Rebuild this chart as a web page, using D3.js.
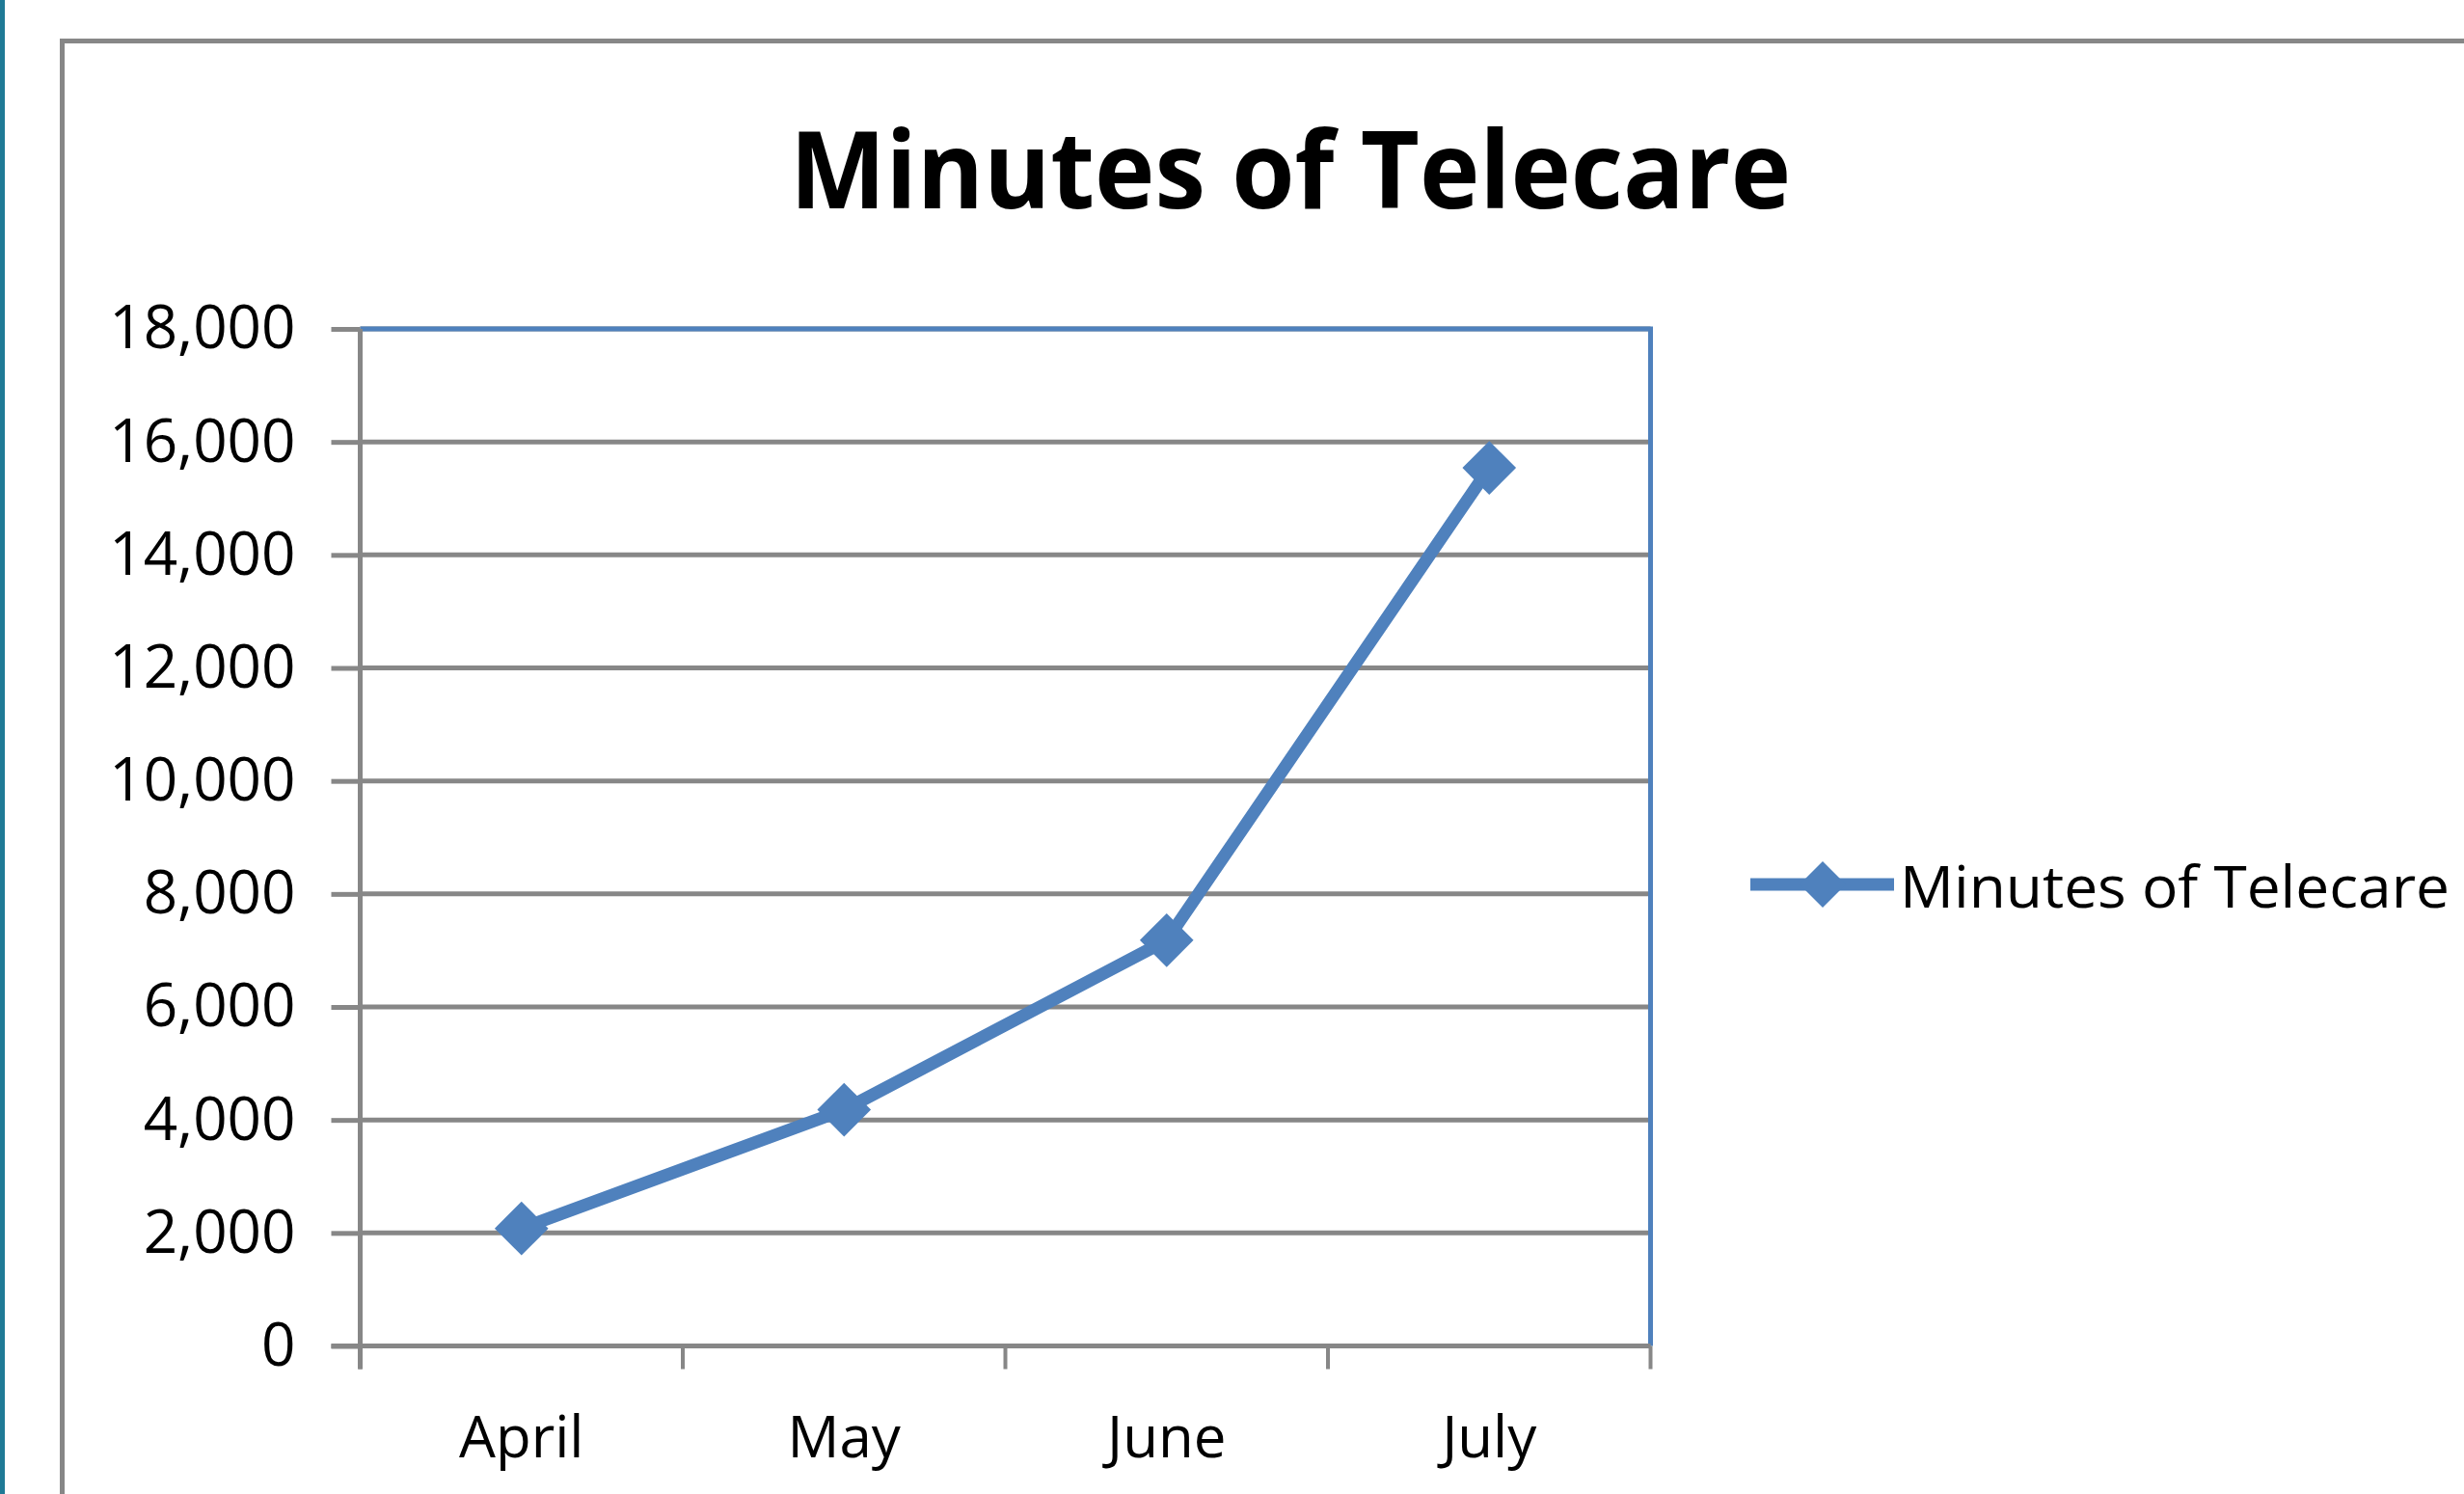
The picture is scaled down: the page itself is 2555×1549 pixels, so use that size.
<!DOCTYPE html>
<html>
<head>
<meta charset="utf-8">
<title>Minutes of Telecare</title>
<script src="https://cdn.jsdelivr.net/npm/d3@7"></script>
<style>
  html, body { margin: 0; padding: 0; background: #ffffff; overflow: hidden; }
  #chart { width: 2555px; height: 1549px; }
  text { font-family: "Open Sans", "Noto Sans", sans-serif; fill: #000; }
</style>
</head>
<body>
<div id="chart"></div>
<script>
// Chart data
const chartTitle = 'Minutes of Telecare';
const seriesName = 'Minutes of Telecare';
const months = ['April', 'May', 'June', 'July'];
const minutes = [2080, 4180, 7180, 15540];
const yTicks = [0, 2000, 4000, 6000, 8000, 10000, 12000, 14000, 16000, 18000];

const W = 2555;
const H = 1549;
const blue = '#4f81bd';
const grey = '#878787';

// Plot area box
const plot = { left: 373.5, right: 1711.5, top: 341, bottom: 1395.5 };

let svg;
let x;
let y;

function drawChart() {
  svg = d3.select('#chart')
    .append('svg')
    .attr('width', W)
    .attr('height', H)
    .attr('viewBox', [0, 0, W, H]);

  // teal strip on the far left
  svg.append('rect')
    .attr('x', 0).attr('y', 0)
    .attr('width', 5).attr('height', H)
    .attr('fill', '#1f7a96');

  // outer chart frame (runs off the right and bottom)
  svg.append('rect')
    .attr('x', 64.5).attr('y', 42.5)
    .attr('width', 2700).attr('height', 1700)
    .attr('fill', 'none')
    .attr('stroke', grey)
    .attr('stroke-width', 5);

  x = d3.scaleBand()
    .domain(months)
    .range([plot.left, plot.right]);

  y = d3.scaleLinear()
    .domain([0, 18000])
    .range([plot.bottom, plot.top]);

  // horizontal gridlines
  svg.append('g')
    .selectAll('line')
    .data(yTicks)
    .join('line')
    .attr('x1', plot.left)
    .attr('x2', plot.right)
    .attr('y1', d => y(d))
    .attr('y2', d => y(d))
    .attr('stroke', grey)
    .attr('stroke-width', 5);

  // plot border on top and right
  svg.append('path')
    .attr('d', `M${plot.left},${plot.top}H${plot.right}V${plot.bottom}`)
    .attr('fill', 'none')
    .attr('stroke', blue)
    .attr('stroke-width', 5);

  // y axis
  const yAxis = d3.axisLeft(y)
    .tickValues(yTicks)
    .tickFormat(d3.format(','))
    .tickSize(30)
    .tickPadding(37)
    .tickSizeOuter(0);

  const gy = svg.append('g')
    .attr('transform', `translate(${plot.left},0)`)
    .call(yAxis);
  gy.select('.domain').remove();
  gy.selectAll('.tick line').attr('stroke', grey).attr('stroke-width', 5);
  gy.selectAll('.tick text')
    .attr('font-size', 62)
    .attr('font-family', '"Open Sans", sans-serif')
    .attr('fill', '#000')
    .attr('dy', '0.32em');

  // y axis line, reaching down to the bottom tick
  svg.append('line')
    .attr('x1', plot.left).attr('x2', plot.left)
    .attr('y1', plot.top).attr('y2', plot.bottom + 24)
    .attr('stroke', grey)
    .attr('stroke-width', 5);

  // x axis: labels at band centres
  const xAxis = d3.axisBottom(x)
    .tickSize(0)
    .tickSizeOuter(0);

  const gx = svg.append('g')
    .attr('transform', `translate(0,${plot.bottom})`)
    .call(xAxis);
  gx.select('.domain').remove();
  gx.selectAll('.tick text')
    .attr('font-size', 60)
    .attr('font-family', '"Open Sans", sans-serif')
    .attr('fill', '#000')
    .attr('y', 115)
    .attr('dy', 0);

  // x axis line and ticks at band edges
  svg.append('line')
    .attr('x1', plot.left - 30).attr('x2', plot.right)
    .attr('y1', plot.bottom).attr('y2', plot.bottom)
    .attr('stroke', grey)
    .attr('stroke-width', 5);

  const edges = months.map(m => x(m)).concat([x.range()[1]]);
  svg.append('g')
    .selectAll('line')
    .data(edges)
    .join('line')
    .attr('x1', d => d).attr('x2', d => d)
    .attr('y1', plot.bottom).attr('y2', plot.bottom + 24)
    .attr('stroke', grey)
    .attr('stroke-width', 4);

  // series line
  const line = d3.line()
    .x((d, i) => x(months[i]) + x.bandwidth() / 2)
    .y(d => y(d));

  svg.append('path')
    .datum(minutes)
    .attr('d', line)
    .attr('fill', 'none')
    .attr('stroke', blue)
    .attr('stroke-width', 13)
    .attr('stroke-linejoin', 'round');

  // diamond markers
  const diamond = d3.symbol().type(d3.symbolSquare).size(1550);
  svg.append('g')
    .selectAll('path')
    .data(minutes)
    .join('path')
    .attr('d', diamond)
    .attr('transform', (d, i) => `translate(${x(months[i]) + x.bandwidth() / 2},${y(d)}) rotate(45)`)
    .attr('fill', blue);

  // title
  svg.append('text')
    .attr('x', 819)
    .attr('y', 216)
    .attr('font-size', 112)
    .attr('font-weight', 'bold')
    .attr('textLength', 1038)
    .attr('lengthAdjust', 'spacingAndGlyphs')
    .text(chartTitle);

  // legend
  const legend = svg.append('g');
  legend.append('line')
    .attr('x1', 1815).attr('x2', 1964)
    .attr('y1', 917).attr('y2', 917)
    .attr('stroke', blue)
    .attr('stroke-width', 13);
  legend.append('path')
    .attr('d', d3.symbol().type(d3.symbolSquare).size(1150))
    .attr('transform', 'translate(1890,917) rotate(45)')
    .attr('fill', blue);
  legend.append('text')
    .attr('x', 1970)
    .attr('y', 941)
    .attr('font-size', 60)
    .attr('textLength', 570)
    .attr('lengthAdjust', 'spacingAndGlyphs')
    .text(seriesName);
}

drawChart();
</script>
</body>
</html>
